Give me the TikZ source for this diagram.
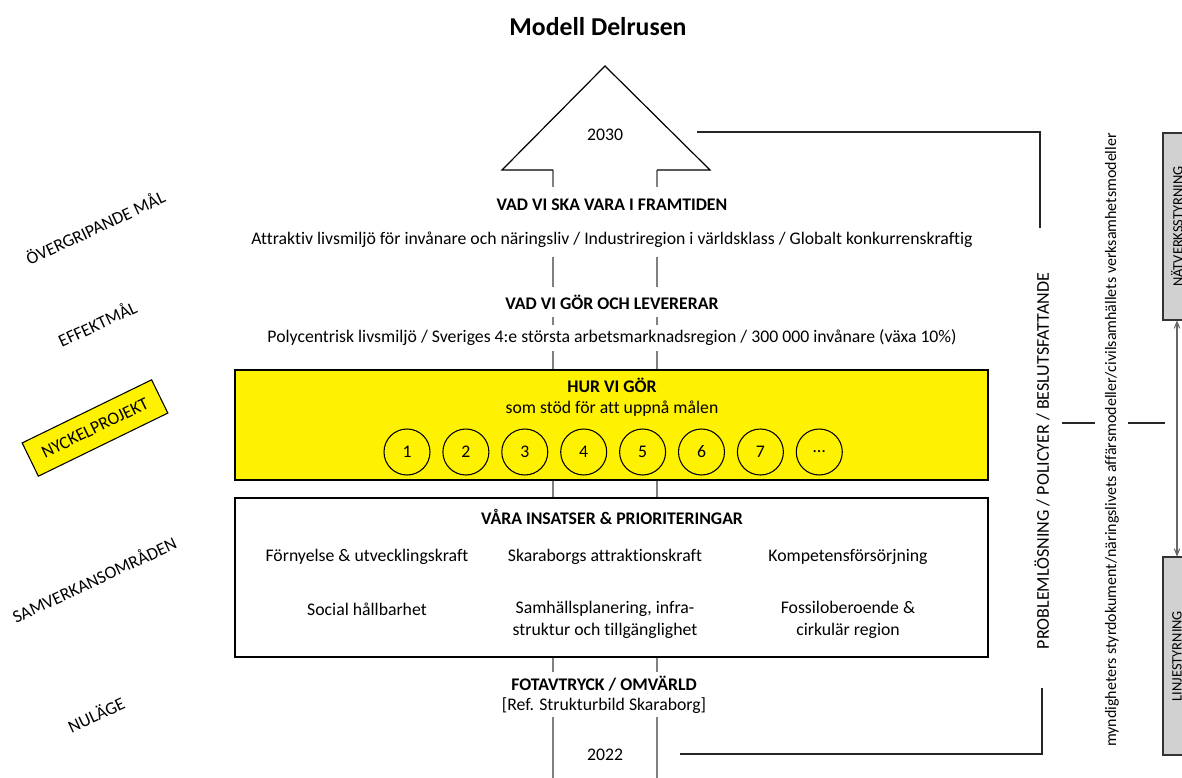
\documentclass[tikz,border=0pt]{standalone}
\usepackage{fontspec}
\setmainfont{Carlito}[Ligatures={NoCommon}]
\usepackage{tikz}
\usetikzlibrary{arrows}

\begin{document}
\begin{tikzpicture}[x=0.75pt,y=-0.75pt]
  \tikzstyle{every node} = [inner sep = 2pt, font=\fontsize{13.3}{16.5}\selectfont];
  \tikzstyle{shaft} = [draw=black!50, line width=1.5pt];
  \tikzstyle{link} = [draw=black!85, line width=0.8pt];
  \tikzstyle{cover} = [fill=white, inner xsep=4pt];
  \tikzstyle{head} = [font=\fontsize{13.3}{16.5}\selectfont\bfseries];
  \tikzstyle{level} = [rotate=25];
  \tikzstyle{num} = [draw, circle, minimum size=34.5pt, line width=0.8pt];
  \tikzstyle{panel} = [draw, line width=0.8pt, minimum width=564.75pt];
  \tikzstyle{steer} = [draw=black!80, fill=black!18, rotate=90, line width=0.8pt,
                       minimum height=21pt, font=\fontsize{10.8}{12}\selectfont];
  \useasboundingbox (0,0) rectangle (1182,778);

  \node[font=\fontsize{19.3}{22}\selectfont\bfseries] (title) at (598,27) {Modell Delrusen};

  % pilen
  \coordinate (apex) at (605,66);
  \coordinate (baseL) at (502,170);
  \coordinate (baseR) at (710,170);
  \coordinate (shaftL) at (553,170);
  \coordinate (shaftR) at (657,170);
  \coordinate (endL) at (553,778);
  \coordinate (endR) at (657,778);
  \draw[shaft] (shaftL) -- (endL);
  \draw[shaft] (shaftR) -- (endR);
  \draw[line width=0.9pt] (shaftL) -- (baseL) -- (apex) -- (baseR) -- (shaftR);
  \node (y2030) at (605,135) {2030};

  % nivaer
  \node[cover, head, minimum height=27pt] (fram) at (612,205) {VAD VI SKA VARA I FRAMTIDEN};
  \node[cover, minimum height=25.5pt] (mal) at (612,240)
    {Attraktiv livsmiljö för invånare och näringsliv / Industriregion i världsklass / Globalt konkurrenskraftig};
  \node[cover, head, minimum height=22.5pt] (gor) at (612,302) {VAD VI GÖR OCH LEVERERAR};
  \node[cover, minimum height=20pt] (effekt) at (612,338)
    {Polycentrisk livsmiljö / Sveriges 4:e största arbetsmarknadsregion / 300 000 invånare (växa 10\%)};

  \node[panel, fill=yellow, minimum height=82.5pt] (hur) at (611.5,425) {};
  \node[head] (hurhead) at (612,385) {HUR VI GÖR};
  \node (hursub) at (612,409) {som stöd för att uppnå målen};
  \foreach \lbl [count=\i] in {1,2,3,4,5,6,7,\dots}
    \node[num] (p\i) at ({407+58.9*(\i-1)},452) {\lbl};

  \node[panel, fill=white, minimum height=119.25pt] (insats) at (611.5,577.5) {};
  \node[head] (insatshead) at (612,517) {VÅRA INSATSER \& PRIORITERINGAR};
  \node (a1) at (367,557) {Förnyelse \& utvecklingskraft};
  \node (a2) at (605,557) {Skaraborgs attraktionskraft};
  \node (a3) at (848,557) {Kompetensförsörjning};
  \node (a4) at (367,609) {Social hållbarhet};
  \node[align=center] (a5) at (605,620) {Samhällsplanering, infra-\\struktur och tillgänglighet};
  \node[align=center] (a6) at (848,620) {Fossiloberoende \&\\cirkulär region};

  \node[cover, head, minimum height=18.75pt] (fot) at (604,684) {FOTAVTRYCK / OMVÄRLD};
  \node[cover, minimum height=15pt] (ref) at (604,706) {[Ref. Strukturbild Skaraborg]};
  \node (y2022) at (605,755) {2022};

  % vanster etiketter
  \node[level] (lvmal) at (95,227) {ÖVERGRIPANDE MÅL};
  \node[level] (lveffekt) at (97,323) {EFFEKTMÅL};
  \node[level, draw, fill=yellow, line width=0.8pt, minimum width=108pt, minimum height=27.75pt,
        rotate=1] (lvnyckel) at (95,428) {NYCKELPROJEKT};
  \node[level] (lvsamverkan) at (94,579) {SAMVERKANSOMRÅDEN};
  \node[level] (lvnulage) at (96,714) {NULÄGE};

  % hoger sida
  \node[rotate=90, font=\fontsize{13.5}{16}\selectfont] (prob) at (1042,461)
    {PROBLEMLÖSNING / POLICYER / BESLUTSFATTANDE};
  \node[rotate=90, font=\fontsize{12}{14}\selectfont] (mynd) at (1112,440)
    {myndigheters styrdokument/näringslivets affärsmodeller/civilsamhällets verksamhetsmodeller};
  \node[steer, minimum width=140.25pt] (natverk) at (1177,226.5) {NÄTVERKSSTYRNING};
  \node[steer, minimum width=148.5pt] (linje) at (1177,656) {LINJESTYRNING};
  \draw[<->, >=angle 45, draw=black!60, line width=0.8pt] (natverk.west) -- (linje.east);

  \coordinate (t1) at (697,132);
  \coordinate (t2) at (1040,132);
  \coordinate (t3) at (1040,228);
  \draw[link] (t1) -- (t2) -- (t3);
  \coordinate (b1) at (680,754);
  \coordinate (b2) at (1042,754);
  \coordinate (b3) at (1042,688);
  \draw[link] (b1) -- (b2) -- (b3);
  \coordinate (m1) at (1062,423);
  \coordinate (m2) at (1095,423);
  \coordinate (m3) at (1128,423);
  \coordinate (m4) at (1165,423);
  \draw[link] (m1) -- (m2);
  \draw[link] (m3) -- (m4);
\end{tikzpicture}
\end{document}
